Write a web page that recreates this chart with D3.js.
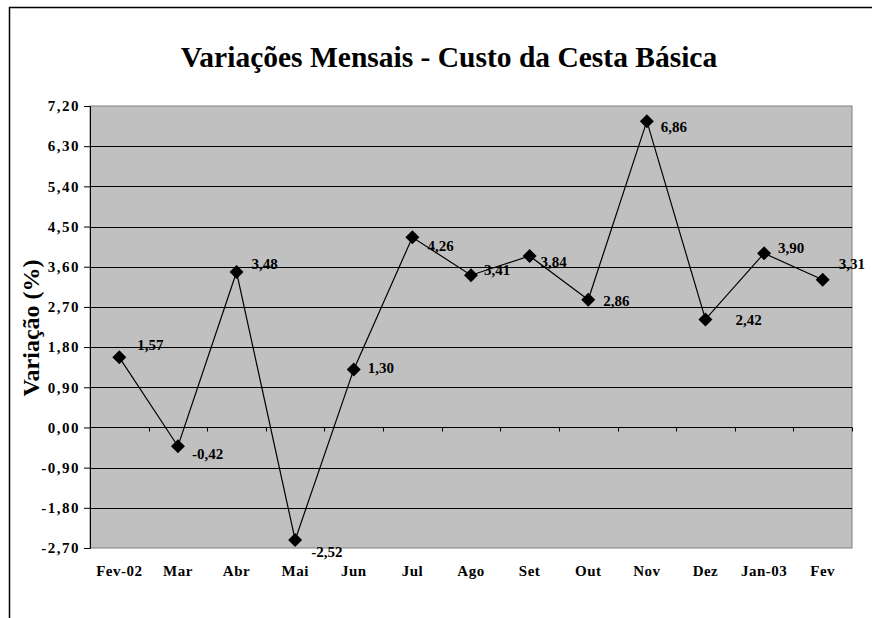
<!DOCTYPE html>
<html>
<head>
<meta charset="utf-8">
<script src="https://cdn.jsdelivr.net/npm/d3@7"></script>
<style>
  body { margin: 0; background: #fff; }
  svg { display: block; }
  svg text { font-family: "Liberation Serif", "Times New Roman", serif; font-weight: bold; fill: #000; }
</style>
</head>
<body>
<svg id="chart" width="872" height="618"></svg>
<script>
// months and monthly variation (%)
const months = ["Fev-02", "Mar", "Abr", "Mai", "Jun", "Jul", "Ago", "Set", "Out", "Nov", "Dez", "Jan-03", "Fev"];
const variation = [1.57, -0.42, 3.48, -2.52, 1.30, 4.26, 3.41, 3.84, 2.86, 6.86, 2.42, 3.90, 3.31];
const yTicks = [-2.7, -1.8, -0.9, 0, 0.9, 1.8, 2.7, 3.6, 4.5, 5.4, 6.3, 7.2];

// label nudges (px, relative to marker) as Excel placed them
const labelDx = [18, 14, 15, 16, 14, 15, 13, 11, 15, 14, 30, 14, 16];
const labelDy = [-13, 8, -8, 12, -2, 8, -5, 6, 1, 6, 0, -6, -16];

const fmt = v => v.toFixed(2).replace(".", ",");

const svg = d3.select("#chart");
const m = { left: 90, right: 852, top: 106, bottom: 548 };

// outer chart border
svg.append("path")
  .attr("d", "M9.5,625 V7.5 H880")
  .attr("fill", "none")
  .attr("stroke", "#000")
  .attr("stroke-width", 1.5);

svg.append("text")
  .attr("x", 449)
  .attr("y", 67)
  .attr("text-anchor", "middle")
  .style("font-size", "29.5px")
  .text("Variações Mensais - Custo da Cesta Básica");

const x = d3.scaleBand().domain(months).range([m.left, m.right]);
const y = d3.scaleLinear().domain([-2.7, 7.2]).range([m.bottom, m.top]);

// plot area
svg.append("rect")
  .attr("x", m.left)
  .attr("y", m.top)
  .attr("width", m.right - m.left)
  .attr("height", m.bottom - m.top)
  .attr("fill", "#c0c0c0")
  .attr("stroke", "#808080")
  .attr("stroke-width", 1);

// gridlines
svg.append("g")
  .selectAll("line")
  .data(yTicks.slice(1, -1))
  .enter()
  .append("line")
  .attr("x1", m.left)
  .attr("x2", m.right)
  .attr("y1", d => Math.round(y(d)) + 0.5)
  .attr("y2", d => Math.round(y(d)) + 0.5)
  .attr("stroke", "#000")
  .attr("stroke-width", 1);

// y axis
const yAxis = svg.append("g")
  .attr("transform", `translate(${m.left},0)`)
  .call(d3.axisLeft(y).tickValues(yTicks).tickSize(6).tickPadding(4).tickFormat(fmt));
yAxis.attr("font-family", null).attr("font-size", null);
yAxis.select(".domain").attr("stroke", "#000");
yAxis.selectAll("text")
  .style("font-size", "15px")
  .attr("letter-spacing", 1.5)
  .attr("fill", "#000");

svg.append("text")
  .attr("transform", "translate(39,328) rotate(-90)")
  .attr("text-anchor", "middle")
  .style("font-size", "24px")
  .text("Variação (%)");

// category axis crossing at zero
const zeroY = Math.round(y(0)) + 0.5;
svg.append("line")
  .attr("x1", m.left).attr("x2", m.right)
  .attr("y1", zeroY).attr("y2", zeroY)
  .attr("stroke", "#000");
svg.append("g")
  .selectAll("line")
  .data(months.slice(1).concat([null]))
  .enter()
  .append("line")
  .attr("x1", (d, i) => Math.round(m.left + x.step() * (i + 1)) + 0.5)
  .attr("x2", (d, i) => Math.round(m.left + x.step() * (i + 1)) + 0.5)
  .attr("y1", zeroY)
  .attr("y2", zeroY + 4)
  .attr("stroke", "#000");

svg.append("g")
  .selectAll("text")
  .data(months)
  .enter()
  .append("text")
  .attr("x", d => x(d) + x.bandwidth() / 2)
  .attr("y", 576)
  .attr("text-anchor", "middle")
  .style("font-size", "15px")
  .attr("letter-spacing", 0.5)
  .text(d => d);

// series line
const cx = (d, i) => x(months[i]) + x.bandwidth() / 2;
const line = d3.line().x(cx).y(d => y(d));
svg.append("path")
  .datum(variation)
  .attr("d", line)
  .attr("fill", "none")
  .attr("stroke", "#000")
  .attr("stroke-width", 1.2);

// diamond markers
svg.append("g")
  .selectAll("path")
  .data(variation)
  .enter()
  .append("path")
  .attr("transform", (d, i) => `translate(${cx(d, i)},${y(d)})`)
  .attr("d", "M0,-7 L7,0 L0,7 L-7,0 Z")
  .attr("fill", "#000");

// data labels
svg.append("g")
  .selectAll("text")
  .data(variation)
  .enter()
  .append("text")
  .attr("x", (d, i) => cx(d, i) + labelDx[i])
  .attr("y", (d, i) => y(d) + labelDy[i])
  .attr("dy", "0.35em")
  .style("font-size", "15px")
  .text(fmt);
</script>
</body>
</html>
